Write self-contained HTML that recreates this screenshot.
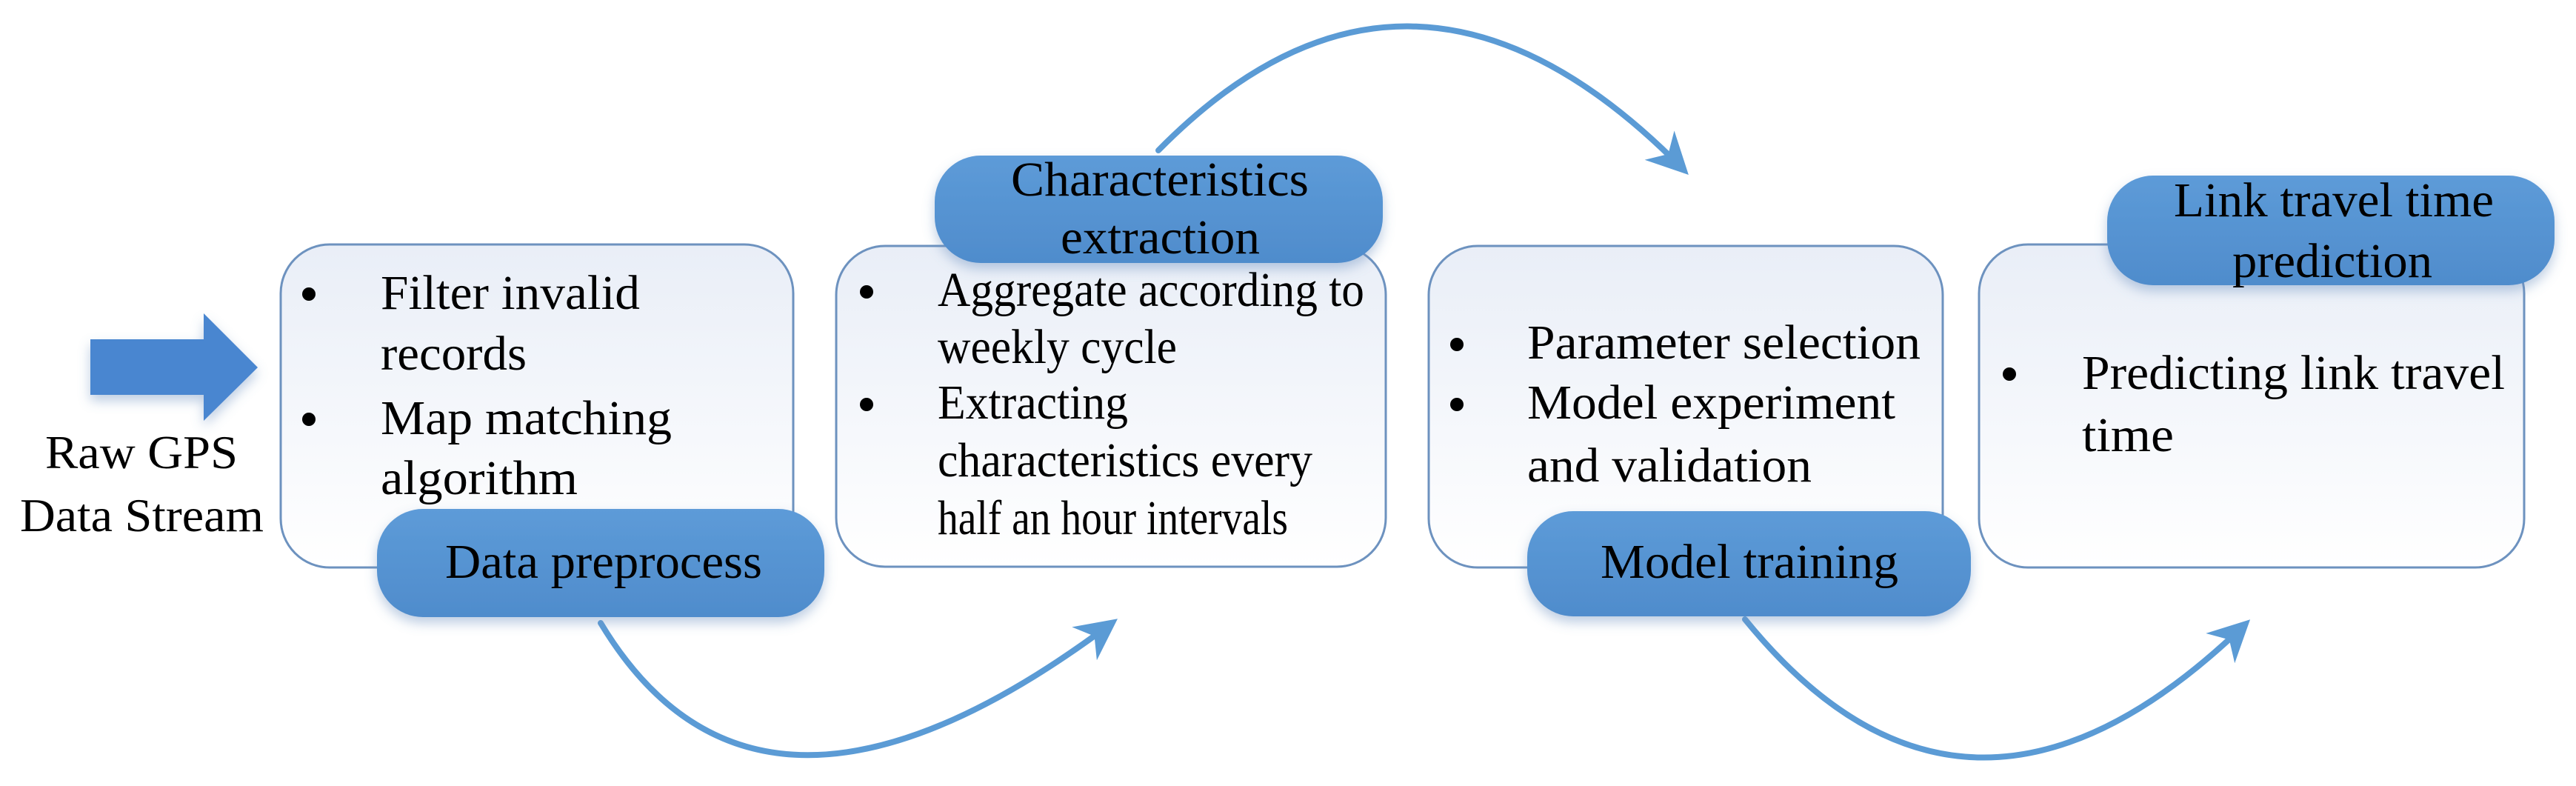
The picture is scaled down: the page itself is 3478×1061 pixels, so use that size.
<!DOCTYPE html>
<html><head><meta charset="utf-8"><style>
html,body{margin:0;padding:0;background:#fff;}
svg{display:block;}
text{font-family:"Liberation Serif",serif;fill:#000;}
</style></head><body>
<svg width="3478" height="1061" viewBox="0 0 3478 1061" xmlns="http://www.w3.org/2000/svg">
<defs>
<linearGradient id="bx" x1="0" y1="0" x2="0" y2="1">
<stop offset="0" stop-color="#e9eef7"/><stop offset="1" stop-color="#ffffff"/>
</linearGradient>
<linearGradient id="pl" x1="0" y1="0" x2="0" y2="1">
<stop offset="0" stop-color="#5d9bd8"/><stop offset="1" stop-color="#4f8ccc"/>
</linearGradient>
<filter id="sh" x="-10%" y="-20%" width="120%" height="150%">
<feDropShadow dx="0" dy="8" stdDeviation="8" flood-color="#6a8fbf" flood-opacity="0.45"/>
</filter>
<marker id="ah" viewBox="0 0 10 10" refX="8" refY="5" markerWidth="7" markerHeight="7" orient="auto" markerUnits="strokeWidth">
<path d="M0,0 L10,5 L0,10 L3,5 z" fill="#5b9bd5"/>
</marker>
</defs>

<!-- input arrow -->
<polygon points="122,458 275,458 275,423 348,496 275,568 275,533 122,533" fill="#4a86d0" filter="url(#sh)"/>
<text x="61" y="632" font-size="64" textLength="260" lengthAdjust="spacingAndGlyphs">Raw GPS</text>
<text x="27" y="717" font-size="64" textLength="329" lengthAdjust="spacingAndGlyphs">Data Stream</text>

<!-- connectors -->
<g fill="none" stroke="#5b9bd5" stroke-width="8" stroke-linecap="round">
<path d="M811,841 Q1025,1197 1500,842" marker-end="url(#ah)"/>
<path d="M1564,203 Q1906,-144 2272,228" marker-end="url(#ah)"/>
<path d="M2356,836 Q2656,1205 3030,844" marker-end="url(#ah)"/>
</g>

<!-- boxes -->
<g fill="url(#bx)" stroke="#6d92bf" stroke-width="3">
<rect x="379" y="330" width="692" height="436" rx="66" ry="66"/>
<rect x="1129" y="332" width="742" height="433" rx="66" ry="66"/>
<rect x="1929" y="332" width="694" height="434" rx="66" ry="66"/>
<rect x="2672" y="330" width="736" height="436" rx="66" ry="66"/>
</g>

<!-- bullets -->
<g fill="#000">
<circle cx="417" cy="397" r="9"/><circle cx="417" cy="566" r="9"/>
<circle cx="1170" cy="394" r="9"/><circle cx="1170" cy="546" r="9"/>
<circle cx="1967" cy="465" r="9"/><circle cx="1967" cy="546" r="9"/>
<circle cx="2713" cy="505" r="9"/>
</g>

<g font-size="66">
<text x="514" y="417" textLength="350" lengthAdjust="spacingAndGlyphs">Filter invalid</text>
<text x="514" y="499" textLength="197" lengthAdjust="spacingAndGlyphs">records</text>
<text x="514" y="586" textLength="393" lengthAdjust="spacingAndGlyphs">Map matching</text>
<text x="514" y="667" textLength="266" lengthAdjust="spacingAndGlyphs">algorithm</text>

<text x="1266" y="413" textLength="576" lengthAdjust="spacingAndGlyphs">Aggregate according to</text>
<text x="1266" y="490" textLength="323" lengthAdjust="spacingAndGlyphs">weekly cycle</text>
<text x="1266" y="565" textLength="257" lengthAdjust="spacingAndGlyphs">Extracting</text>
<text x="1266" y="643" textLength="506" lengthAdjust="spacingAndGlyphs">characteristics every</text>
<text x="1266" y="721" textLength="473" lengthAdjust="spacingAndGlyphs">half an hour intervals</text>

<text x="2062" y="484" textLength="531" lengthAdjust="spacingAndGlyphs">Parameter selection</text>
<text x="2062" y="565" textLength="497" lengthAdjust="spacingAndGlyphs">Model experiment</text>
<text x="2062" y="650" textLength="384" lengthAdjust="spacingAndGlyphs">and validation</text>

<text x="2811" y="525" textLength="571" lengthAdjust="spacingAndGlyphs">Predicting link travel</text>
<text x="2811" y="609" textLength="124" lengthAdjust="spacingAndGlyphs">time</text>
</g>

<!-- pills -->
<g fill="url(#pl)" filter="url(#sh)">
<rect x="509" y="687" width="604" height="146" rx="62" ry="62"/>
<rect x="1262" y="210" width="605" height="145" rx="62" ry="62"/>
<rect x="2062" y="690" width="599" height="142" rx="62" ry="62"/>
<rect x="2845" y="237" width="604" height="148" rx="62" ry="62"/>
</g>
<g font-size="66">
<text x="601" y="780" textLength="428" lengthAdjust="spacingAndGlyphs">Data preprocess</text>
<text x="1365" y="264" textLength="402" lengthAdjust="spacingAndGlyphs">Characteristics</text>
<text x="1432" y="342" textLength="269" lengthAdjust="spacingAndGlyphs">extraction</text>
<text x="2161" y="780" textLength="402" lengthAdjust="spacingAndGlyphs">Model training</text>
<text x="2935" y="292" textLength="432" lengthAdjust="spacingAndGlyphs">Link travel time</text>
<text x="3014" y="374" textLength="270" lengthAdjust="spacingAndGlyphs">prediction</text>
</g>
</svg>
</body></html>
